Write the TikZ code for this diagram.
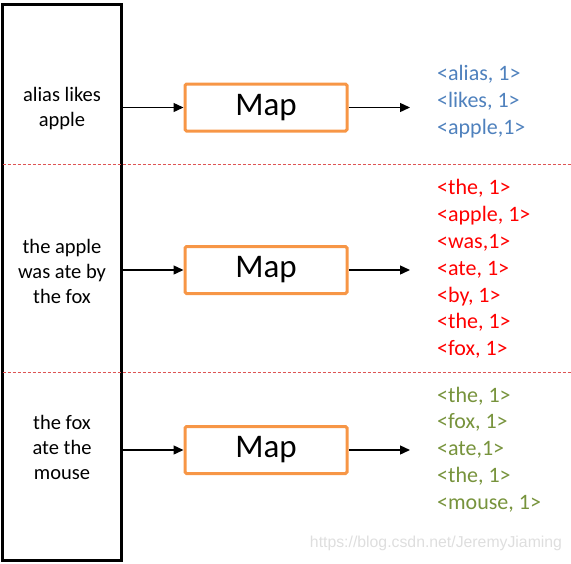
\documentclass[tikz,border=0pt]{standalone}
\usepackage{fontspec}
\setmainfont{Carlito}
\newfontfamily\urlfont{Liberation Sans}
\usetikzlibrary{positioning, arrows.meta}
\definecolor{maporange}{RGB}{247,150,70}
\definecolor{kvblue}{RGB}{79,129,189}
\definecolor{kvred}{RGB}{255,0,0}
\definecolor{kvgreen}{RGB}{119,147,60}
\definecolor{splitred}{RGB}{222,84,84}

\begin{document}
\begin{tikzpicture}[x=1pt,y=-1pt,>={Triangle[length=10pt,width=9pt]},
    inbox/.style={draw,line width=3pt,minimum width=118.5pt,minimum height=556pt,inner sep=0pt},
    split/.style={splitred,line width=1pt,dash pattern=on 3pt off 2pt},
    intext/.style={align=center,font=\fontsize{20.5}{25}\selectfont,inner sep=0pt},
    mapbox/.style={draw=maporange,line width=3pt,rounded corners=1.5pt,minimum width=162pt,
      minimum height=47pt,inner sep=0pt,font=\fontsize{33}{40}\selectfont},
    kv/.style={anchor=west,align=left,inner sep=0pt,font=\fontsize{22}{26.8}\selectfont},
    flow/.style={->,line width=1.4pt}]
  \useasboundingbox (0,0) rectangle (571,563);

  % input splits
  \node[inbox] (input) at (61.75,282.5) {};
  \draw[split] (2.5,164.5) -- (571,164.5);
  \draw[split] (2.5,372) -- (571,372);

  \node[intext] (s1) at (62,109) {alias likes\\apple};
  \node[intext] (s2) at (62,271) {the apple\\was ate by\\the fox};
  \node[intext] (s3) at (62,447) {the fox\\ate the\\mouse};

  % map tasks
  \node[mapbox] (m1) at (266,107.5) {Map};
  \node[mapbox] (m2) at (266,270) {Map};
  \node[mapbox] (m3) at (266,450) {Map};

  \coordinate (o1) at (410,107.5);
  \coordinate (o2) at (410,270);
  \coordinate (o3) at (410,450);

  \draw[flow] (input.east |- m1) -- (m1.west);
  \draw[flow] (input.east |- m2) -- (m2.west);
  \draw[flow] (input.east |- m3) -- (m3.west);
  \draw[flow] (m1.east) -- (o1);
  \draw[flow] (m2.east) -- (o2);
  \draw[flow] (m3.east) -- (o3);

  % key/value output
  \node[kv,text=kvblue] (kv1) at (437,101.5) {<alias, 1>\\<likes, 1>\\<apple,1>};
  \node[kv,text=kvred] (kv2) at (437,269)
    {<the, 1>\\<apple, 1>\\<was,1>\\<ate, 1>\\<by, 1>\\<the, 1>\\<fox, 1>};
  \node[kv,text=kvgreen] (kv3) at (437,449.5)
    {<the, 1>\\<fox, 1>\\<ate,1>\\<the, 1>\\<mouse, 1>};

  \node[text=black!13,font=\urlfont\fontsize{15.8}{18}\selectfont,inner sep=0pt] (url) at (436,543)
    {https://blog.csdn.net/JeremyJiaming};
\end{tikzpicture}
\end{document}
